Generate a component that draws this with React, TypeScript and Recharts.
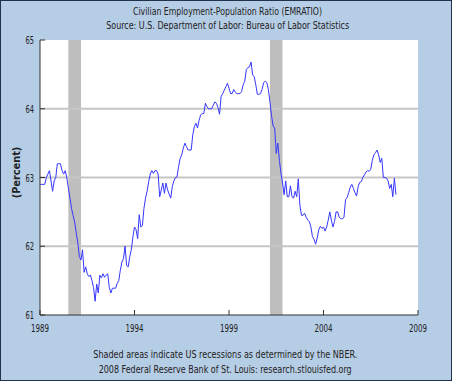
import { LineChart, Line, XAxis, YAxis, ReferenceArea, ReferenceLine } from "recharts";

// monthly civilian employment-population ratio, Jan of each year first
const START_YEAR = 1989;
const v1989 = [62.9, 62.9, 62.9, 62.9, 63.0, 63.05, 63.1, 62.95, 62.8, 62.95, 63.0, 63.2];
const v1990 = [63.2, 63.2, 63.1, 63.05, 63.1, 63.0, 62.85, 62.7, 62.55, 62.45, 62.35, 62.2];
const v1991 = [62.05, 61.85, 61.8, 61.95, 61.62, 61.7, 61.6, 61.56, 61.58, 61.5, 61.4, 61.2];
const v1992 = [61.45, 61.32, 61.58, 61.54, 61.6, 61.55, 61.58, 61.6, 61.4, 61.32, 61.39, 61.39];
const v1993 = [61.39, 61.46, 61.5, 61.65, 61.77, 61.82, 62.0, 61.72, 61.7, 61.85, 61.95, 62.14];
const v1994 = [62.28, 62.24, 62.11, 62.46, 62.28, 62.3, 62.55, 62.7, 62.8, 62.94, 63.05, 63.1];
const v1995 = [63.06, 63.1, 63.1, 63.05, 62.72, 62.82, 62.92, 62.77, 62.92, 62.82, 62.76, 62.7];
const v1996 = [62.87, 62.95, 63.0, 63.01, 63.16, 63.28, 63.33, 63.43, 63.5, 63.45, 63.4, 63.4];
const v1997 = [63.4, 63.62, 63.74, 63.79, 63.72, 63.83, 63.91, 63.93, 63.93, 64.08, 64.03, 64.0];
const v1998 = [64.0, 64.0, 64.05, 64.1, 64.08, 64.02, 63.92, 64.18, 64.22, 64.27, 64.32, 64.37];
const v1999 = [64.3, 64.22, 64.22, 64.28, 64.24, 64.22, 64.22, 64.22, 64.25, 64.35, 64.4, 64.57];
const v2000 = [64.6, 64.61, 64.68, 64.49, 64.47, 64.35, 64.21, 64.21, 64.22, 64.28, 64.38, 64.4];
const v2001 = [64.38, 64.28, 64.1, 63.9, 63.75, 63.72, 63.35, 63.5, 63.25, 63.06, 62.92, 62.75];
const v2002 = [62.95, 62.72, 62.72, 62.88, 62.72, 62.7, 62.8, 62.72, 62.98, 62.6, 62.45, 62.45];
const v2003 = [62.48, 62.42, 62.38, 62.36, 62.28, 62.14, 62.1, 62.03, 62.12, 62.24, 62.29, 62.26];
const v2004 = [62.28, 62.22, 62.28, 62.38, 62.5, 62.38, 62.28, 62.36, 62.5, 62.5, 62.42, 62.4];
const v2005 = [62.4, 62.42, 62.68, 62.71, 62.78, 62.86, 62.9, 62.84, 62.78, 62.73, 62.87, 62.93];
const v2006 = [62.94, 63.0, 63.04, 63.08, 63.1, 63.09, 63.12, 63.25, 63.33, 63.36, 63.4, 63.33];
const v2007 = [63.22, 63.28, 63.0, 63.0, 62.99, 62.95, 62.84, 62.9, 62.72, 62.99, 62.75];

const years = [
  v1989, v1990, v1991, v1992, v1993, v1994, v1995, v1996, v1997, v1998,
  v1999, v2000, v2001, v2002, v2003, v2004, v2005, v2006, v2007,
];

const yearTicks = [1989, 1994, 1999, 2004, 2009];
const pctTicks = [61, 62, 63, 64, 65];
const gridValues = [62, 63, 64];
// NBER recessions, as fractional years
const recessions = [
  [1990.5, 1991.17],
  [2001.17, 2001.83],
];

const data = years.flatMap((vals, i) =>
  vals.map((v, m) => ({ t: START_YEAR + i + m / 12, value: v }))
);

const FONT = "'Liberation Sans Narrow', 'DejaVu Sans Condensed', 'Liberation Sans', sans-serif";
const INK = "#222";

function YTick({ x, y, payload }: any) {
  return (
    <text x={x} y={y + 4} textAnchor="end" fontSize={11} fontFamily={FONT} fill={INK}
      textLength={8.5} lengthAdjust="spacingAndGlyphs">
      {payload.value}
    </text>
  );
}

function XTick({ x, y, payload }: any) {
  return (
    <text x={x} y={y + 21.5} textAnchor="middle" fontSize={11} fontFamily={FONT} fill={INK}
      textLength={18} lengthAdjust="spacingAndGlyphs">
      {payload.value}
    </text>
  );
}

export default function App() {
  return (
    <div style={{ position: "absolute", left: 0, top: 0, width: 452, height: 381, background: "#b6cde6" }}>
      <LineChart width={452} height={381} data={data} margin={{ top: 40, right: 34, bottom: 36, left: 0 }}>
        <XAxis
          dataKey="t"
          type="number"
          domain={[1989, 2009]}
          ticks={yearTicks}
          height={30}
          tickSize={-5}
          tickMargin={0}
          tick={XTick}
          axisLine={{ stroke: "#333" }}
          tickLine={{ stroke: "#333" }}
        />
        <YAxis
          type="number"
          domain={[61, 65]}
          ticks={pctTicks}
          width={40}
          tickSize={-5}
          tickMargin={11}
          tick={YTick}
          axisLine={{ stroke: "#333" }}
          tickLine={{ stroke: "#333" }}
        />
        <ReferenceArea x1={1989} x2={2009} y1={61} y2={65} fill="#fff" fillOpacity={1} stroke="none" />
        {gridValues.map((v) => (
          <ReferenceLine key={v} y={v} stroke="#c6c6c6" strokeWidth={2} />
        ))}
        {recessions.map(([a, b]) => (
          <ReferenceArea key={a} x1={a} x2={b} y1={61} y2={65} fill="#bebebe" fillOpacity={1} stroke="none" />
        ))}
        <Line
          type="linear"
          dataKey="value"
          stroke="#3636ff"
          strokeWidth={1}
          dot={false}
          isAnimationActive={false}
        />
      </LineChart>
      <svg width={452} height={381} style={{ position: "absolute", left: 0, top: 0, pointerEvents: "none" }}>
        <g fontFamily={FONT} fill={INK} fontSize={10.5} textAnchor="middle">
          <text x={227.5} y={15} textLength={189} lengthAdjust="spacingAndGlyphs">
            Civilian Employment-Population Ratio (EMRATIO)
          </text>
          <text x={227.7} y={28.5} textLength={243} lengthAdjust="spacingAndGlyphs">
            Source: U.S. Department of Labor: Bureau of Labor Statistics
          </text>
          <text x={225.3} y={358.3} textLength={264} lengthAdjust="spacingAndGlyphs">
            Shaded areas indicate US recessions as determined by the NBER.
          </text>
          <text x={225.2} y={373.3} textLength={253} lengthAdjust="spacingAndGlyphs">
            2008 Federal Reserve Bank of St. Louis: research.stlouisfed.org
          </text>
          <text transform="translate(20.3,172.5) rotate(-90)" fontWeight="bold" fontSize={10}
            textLength={51.6} lengthAdjust="spacingAndGlyphs">
            (Percent)
          </text>
        </g>
        <rect x={0.5} y={0.5} width={451} height={380} fill="none" stroke="#22324c" strokeWidth={1} />
      </svg>
    </div>
  );
}
